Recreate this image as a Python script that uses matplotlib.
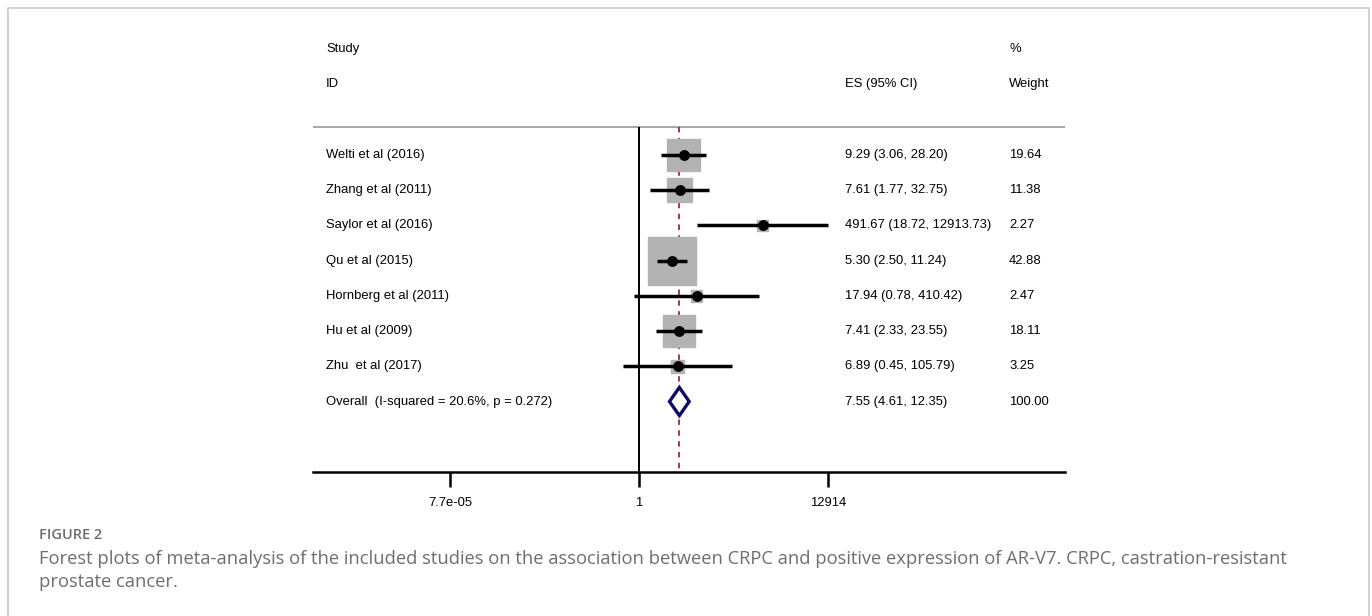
import numpy as np
import matplotlib.pyplot as plt
from matplotlib.lines import Line2D
from matplotlib.patches import Polygon
import matplotlib.transforms as mtransforms

# ---------------- data -------------------------------------------------
studies = [
    "Welti et al (2016)",
    "Zhang et al (2011)",
    "Saylor et al (2016)",
    "Qu et al (2015)",
    "Hornberg et al (2011)",
    "Hu et al (2009)",
    "Zhu  et al (2017)",
]
es = [9.29, 7.61, 491.67, 5.30, 17.94, 7.41, 6.89]
ci_low = [3.06, 1.77, 18.72, 2.50, 0.78, 2.33, 0.45]
ci_high = [28.20, 32.75, 12913.73, 11.24, 410.42, 23.55, 105.79]
weights = [19.64, 11.38, 2.27, 42.88, 2.47, 18.11, 3.25]

overall_label = "Overall  (I-squared = 20.6%, p = 0.272)"
overall_es, overall_low, overall_high = 7.55, 4.61, 12.35

tick_values = [7.7e-05, 1, 12914]
tick_labels = ["7.7e-05", "1", "12914"]

caption_title = "FIGURE 2"
caption_text = ("Forest plots of meta-analysis of the included studies on the association between CRPC and "
                "positive expression of AR-V7. CRPC, castration-resistant\nprostate cancer.")

# ---------------- figure -----------------------------------------------
plt.rcParams["font.family"] = ["Liberation Sans", "DejaVu Sans"]
W, H = 1372, 616
fig = plt.figure(figsize=(W / 100, H / 100), dpi=100)

# page frame (open at the bottom)
fig.add_artist(Line2D([8 / W, 8 / W, 1369 / W, 1369 / W], [0, 1 - 8 / H, 1 - 8 / H, 0],
                      transform=fig.transFigure, color="#c9c9c9", lw=1.2))

ax = fig.add_axes([313 / W, 1 - 472 / H, (1065 - 313) / W, (472 - 31.5) / H])
ax.set_xscale("log")
ax.set_xlim(10 ** -7.092, 10 ** 9.267)
ax.set_ylim(9, -3.5)

rows = np.arange(len(studies))
top_y = -0.8

# header line, null line and pooled estimate line
ax.axhline(top_y, color="#a6a6a6", lw=1.4)
ax.vlines(1, top_y, 9, color="black", lw=1.4)
ax.vlines(overall_es, top_y, 9, color="#9e2a2f", lw=1.3, linestyles=(0, (3, 3)))

# weight boxes
side_px = 48 * np.sqrt(np.array(weights) / max(weights))
ax.scatter(es, rows, marker="s", s=(side_px * 0.72) ** 2, color="#b3b3b3",
           edgecolors="#b3b3b3", linewidths=1.0, zorder=2)

# confidence intervals and point estimates
ax.hlines(rows, ci_low, ci_high, color="black", lw=2.5, zorder=3)
ax.plot(es, rows, "o", color="black", ms=6.8, zorder=4)

# pooled diamond
oy = len(studies)
h = 0.4
diamond = Polygon([[overall_low, oy], [overall_es, oy - h], [overall_high, oy], [overall_es, oy + h]],
                  closed=True, facecolor="white", edgecolor="#0d0d6b", lw=2.4, zorder=4)
ax.add_patch(diamond)

# text columns
trans = mtransforms.blended_transform_factory(ax.transAxes, ax.transData)
fs = 9.4
x_lab, x_es, x_w = (326 - 313) / 752, (845 - 313) / 752, (1009 - 313) / 752
ax.text(x_lab, -3, "Study", transform=trans, fontsize=fs, va="center")
ax.text(x_lab, -2, "ID", transform=trans, fontsize=fs, va="center")
ax.text(x_w, -3, "%", transform=trans, fontsize=fs, va="center")
ax.text(x_es, -2, "ES (95% CI)", transform=trans, fontsize=fs, va="center")
ax.text(x_w, -2, "Weight", transform=trans, fontsize=fs, va="center")

for i, name in enumerate(studies):
    ax.text(x_lab, i, name, transform=trans, fontsize=fs, va="center")
    ax.text(x_es, i, f"{es[i]:.2f} ({ci_low[i]:.2f}, {ci_high[i]:.2f})", transform=trans,
            fontsize=fs, va="center")
    ax.text(x_w, i, f"{weights[i]:.2f}", transform=trans, fontsize=fs, va="center")

ax.text(x_lab, oy, overall_label, transform=trans, fontsize=fs, va="center")
ax.text(x_es, oy, f"{overall_es:.2f} ({overall_low:.2f}, {overall_high:.2f})", transform=trans,
        fontsize=fs, va="center")
ax.text(x_w, oy, f"{sum(weights):.2f}", transform=trans, fontsize=fs, va="center")

# axis styling
for side in ["top", "left", "right"]:
    ax.spines[side].set_visible(False)
ax.spines["bottom"].set_linewidth(1.8)
ax.set_yticks([])
ax.set_xticks(tick_values)
ax.set_xticklabels(tick_labels)
ax.xaxis.set_minor_locator(plt.NullLocator())
ax.tick_params(axis="x", length=11, width=1.8, labelsize=fs, pad=7)

# caption
fig.text(39 / W, 1 - 535 / H, caption_title, fontsize=10.5, color="#6d6e71", fontweight="semibold",
         family="Open Sans", va="center")
fig.text(39 / W, 1 - 570.5 / H, caption_text, fontsize=13.2, color="#6d6e71", family="Open Sans",
         va="center", linespacing=1.4)

fig.savefig("out.png", dpi=100)
